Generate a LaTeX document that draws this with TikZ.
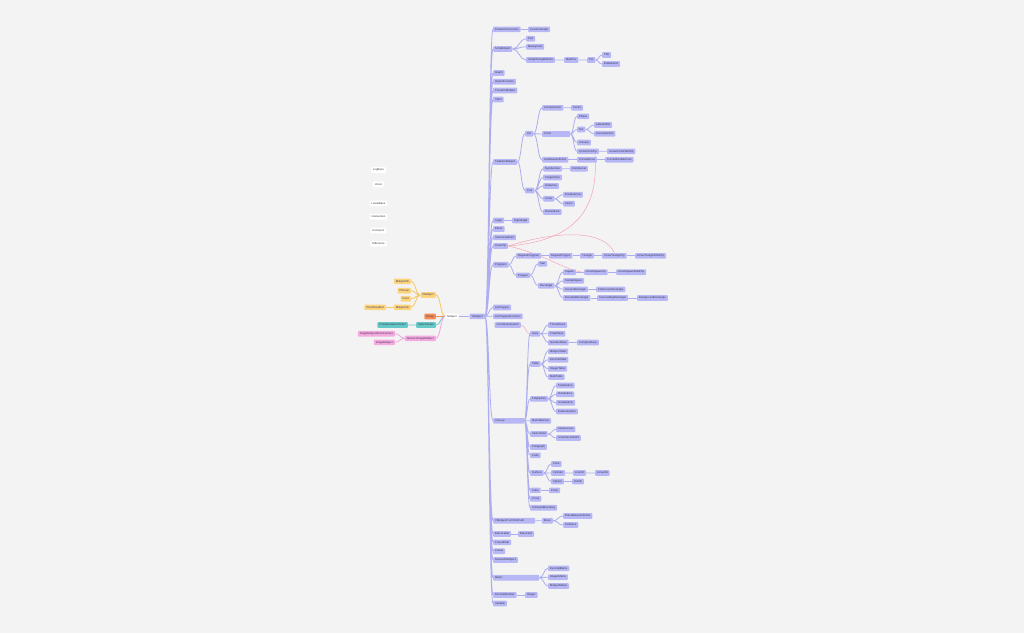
\documentclass[tikz,border=0pt]{standalone}
\usepackage{fontspec}
\setmainfont{Liberation Sans}
\usetikzlibrary{calc,backgrounds}

\definecolor{bgc}{HTML}{F3F3F3}
\definecolor{txt}{HTML}{35354A}
\definecolor{vfill}{HTML}{B7B7F5}
\definecolor{vline}{HTML}{ADADF0}
\definecolor{ofill}{HTML}{FDD47E}
\definecolor{oline}{HTML}{F8C662}
\definecolor{rfill}{HTML}{F38D55}
\definecolor{tfill}{HTML}{66C7C7}
\definecolor{tline}{HTML}{6CCACA}
\definecolor{kfill}{HTML}{F4AADF}
\definecolor{kline}{HTML}{F1A6DA}
\definecolor{xline}{HTML}{F3A5B8}

\begin{document}
\begin{tikzpicture}[
    x=1pt, y=-1pt,
    box/.style={rounded corners=0.8pt, font=\fontsize{2.7}{3}\selectfont, text=txt,
        inner xsep=2pt, inner ysep=0pt, text height=2pt, text depth=0.6pt,
        minimum height=5.6pt, anchor=west},
    vbox/.style={box, fill=vfill},
    obox/.style={box, fill=ofill, anchor=east},
    tbox/.style={box, fill=tfill, anchor=east},
    kbox/.style={box, fill=kfill, anchor=east},
    wbox/.style={box, fill=white, anchor=center},
    wide/.style={text width=#1, align=left},
    link/.style={to path={let \p1=(\tikztostart), \p2=(\tikztotarget), \n1={(\x1+\x2)/2}
        in .. controls (\n1,\y1) and (\n1,\y2) .. (\tikztotarget)}},
    vedge/.style={draw=vline, line width=0.8pt},
    oedge/.style={draw=oline, line width=0.8pt},
    tedge/.style={draw=tline, line width=0.8pt},
    kedge/.style={draw=kline, line width=0.8pt},
    xedge/.style={draw=xline, line width=0.5pt},
]
\useasboundingbox (0,0) rectangle (1024,633);

% free standing
\node[wbox] (logbase) at (378.5,170) {LogBase};
\node[wbox] (union) at (378.5,184.5) {Union};
\node[wbox] (linbase) at (378.5,203.3) {LinearBase};
\node[wbox] (inter) at (378.5,216.7) {Intersection};
\node[wbox] (excl) at (378.5,230.5) {Exclusion};
\node[wbox] (diff) at (378.5,243.7) {Difference};

% root
\node[wbox] (root) at (452,316.3) {Mobject};
\node[vbox, anchor=east] (vmob) at (485,316.3) {VMobject};

% left branches
\node[obox] (pmob) at (436,295) {PMobject};
\node[obox] (mob2d) at (411,281.3) {Mobject2D};
\node[obox] (pgroup) at (411,290.7) {PGroup};
\node[obox] (point) at (411,298.7) {Point};
\node[obox] (mob1d) at (411,307.3) {Mobject1D};
\node[obox] (pcdot) at (386,307.3) {PointCloudDot};
\node[box, fill=rfill, anchor=east] (group) at (436,316.5) {Group};
\node[tbox] (vtrack) at (436,325) {ValueTracker};
\node[tbox] (cvtrack) at (408,325) {ComplexValueTracker};
\node[kbox] (absimg) at (436,338.3) {AbstractImageMobject};
\node[kbox] (imgcam) at (395,333.7) {ImageMobjectFromCamera};
\node[kbox] (imgmob) at (395,342.3) {ImageMobject};

% VMobject branch
\node[vbox] (parfn) at (493,29.3) {ParametricFunction};
\node[vbox] (fngraph) at (528,29.3) {FunctionGraph};
\node[vbox] (svg) at (493,49) {SVGMobject};
\node[vbox] (text) at (526,38.7) {Text};
\node[vbox] (markup) at (526,46.7) {MarkupText};
\node[vbox] (sstex) at (526,60) {SingleStringMathTex};
\node[vbox] (mathtex) at (564,60) {MathTex};
\node[vbox] (tex) at (587,60) {Tex};
\node[vbox] (title) at (602,55) {Title};
\node[vbox] (bullets) at (602,64) {BulletedList};
\node[vbox] (graph) at (493,73) {Graph};
\node[vbox] (implicit) at (493,81.7) {ImplicitFunction};
\node[vbox] (threedv) at (493,90.5) {ThreeDVMobject};
\node[vbox] (vdict) at (493,99.5) {VDict};

\node[vbox] (tipable) at (493,162) {TipableVMobject};
\node[vbox] (arc) at (525,133.7) {Arc};
\node[vbox] (annsec) at (542,107.8) {AnnularSector};
\node[vbox] (sector) at (571,107.8) {Sector};
\node[vbox, wide=24pt] (circle) at (542,134) {Circle};
\node[vbox] (ellipse) at (577,116.3) {Ellipse};
\node[vbox] (dot) at (577,129.5) {Dot};
\node[vbox] (labdot) at (594,125) {LabeledDot};
\node[vbox] (annodot) at (594,133.7) {AnnotationDot};
\node[vbox] (annulus) at (577,142.5) {Annulus};
\node[vbox] (circtip) at (577,151.3) {ArrowCircleTip};
\node[vbox] (circfill) at (607,151.3) {ArrowCircleFilledTip};
\node[vbox] (arcbp) at (542,159.7) {ArcBetweenPoints};
\node[vbox] (curvarr) at (577,159.7) {CurvedArrow};
\node[vbox] (curvdbl) at (605,159.7) {CurvedDoubleArrow};
\node[vbox] (line) at (525,190.5) {Line};
\node[vbox] (numline) at (543,168.7) {NumberLine};
\node[vbox] (unitint) at (570,168.7) {UnitInterval};
\node[vbox] (tangent) at (543,177.5) {TangentLine};
\node[vbox] (underline) at (543,186) {Underline};
\node[vbox] (arrow) at (543,198.7) {Arrow};
\node[vbox] (dblarrow) at (563,194.7) {DoubleArrow};
\node[vbox] (vector) at (563,203.7) {Vector};
\node[vbox] (dashline) at (543,212) {DashedLine};

\node[vbox] (angle) at (493,220.5) {Angle};
\node[vbox] (rightang) at (512,220.5) {RightAngle};
\node[vbox] (elbow) at (493,229) {Elbow};
\node[vbox] (vpoint) at (493,237.3) {VectorizedPoint};
\node[vbox] (arrtip) at (493,246) {ArrowTip};

\node[vbox] (polygram) at (493,264.7) {Polygram};
\node[vbox] (regpgram) at (516,255.8) {RegularPolygram};
\node[vbox] (regpgon) at (549,255.8) {RegularPolygon};
\node[vbox] (triangle) at (580,255.8) {Triangle};
\node[vbox] (tritip) at (602,255.8) {ArrowTriangleTip};
\node[vbox] (trifill) at (635,255.8) {ArrowTriangleFilledTip};
\node[vbox] (polygon) at (516,275.3) {Polygon};
\node[vbox] (star) at (538,263.8) {Star};
\node[vbox] (rect) at (538,285.7) {Rectangle};
\node[vbox] (square) at (563,272.2) {Square};
\node[vbox] (sqtip) at (584,272.2) {ArrowSquareTip};
\node[vbox] (sqfill) at (616,272.2) {ArrowSquareFilledTip};
\node[vbox] (sample) at (563,280.8) {SampleSpace};
\node[vbox] (screen) at (563,289.3) {ScreenRectangle};
\node[vbox] (fullscreen) at (596,289.3) {FullScreenRectangle};
\node[vbox] (rounded) at (563,298) {RoundedRectangle};
\node[vbox] (surround) at (597,298) {SurroundingRectangle};
\node[vbox] (backrect) at (637,298) {BackgroundRectangle};

\node[vbox] (arcpoly) at (493,307.5) {ArcPolygon};
\node[vbox] (arcpolyarcs) at (493,316.3) {ArcPolygonFromArcs};
\node[vbox] (coordsys) at (494.5,325) {CoordinateSystem};

\node[vbox, wide=27pt] (vgroup) at (493,420.8) {VGroup};
\node[vbox] (axes) at (530,333.7) {Axes};
\node[vbox] (threedaxes) at (548,325) {ThreeDAxes};
\node[vbox] (polar) at (548,333.7) {PolarPlane};
\node[vbox] (numplane) at (548,342.5) {NumberPlane};
\node[vbox] (complex) at (577,342.5) {ComplexPlane};
\node[vbox] (table) at (530,364) {Table};
\node[vbox] (mobtable) at (548,351.3) {MobjectTable};
\node[vbox] (dectable) at (548,359.7) {DecimalTable};
\node[vbox] (inttable) at (548,368.7) {IntegerTable};
\node[vbox] (mathtable) at (548,377) {MathTable};
\node[vbox] (polyhed) at (530,398.8) {Polyhedron};
\node[vbox] (tetra) at (556,385.5) {Tetrahedron};
\node[vbox] (octa) at (556,394.2) {Octahedron};
\node[vbox] (icosa) at (556,402.8) {Icosahedron};
\node[vbox] (dodeca) at (556,411.5) {Dodecahedron};
\node[vbox] (banner) at (530,420.8) {ManimBanner};
\node[vbox] (vfield) at (530,434) {VectorField};
\node[vbox] (stream) at (556,429.2) {StreamLines};
\node[vbox] (arrfield) at (556,438) {ArrowVectorField};
\node[vbox] (para) at (530,447) {Paragraph};
\node[vbox] (code) at (530,455.3) {Code};
\node[vbox] (surface) at (530,473) {Surface};
\node[vbox] (cone) at (551,464) {Cone};
\node[vbox] (cylinder) at (551,473) {Cylinder};
\node[vbox] (line3d) at (573,473) {Line3D};
\node[vbox] (arrow3d) at (595,473) {Arrow3D};
\node[vbox] (sphere) at (551,481.5) {Sphere};
\node[vbox] (dot3d) at (572,481.5) {Dot3D};
\node[vbox] (cube) at (530,490.3) {Cube};
\node[vbox] (prism) at (549,490.3) {Prism};
\node[vbox] (cross) at (530,498.7) {Cross};
\node[vbox] (animbound) at (530,507.7) {AnimatedBoundary};

\node[vbox, wide=38pt] (svgpath) at (493,520.7) {VMobjectFromSVGPath};
\node[vbox] (brace) at (541.7,520.7) {Brace};
\node[vbox] (bracebp) at (563,516) {BraceBetweenPoints};
\node[vbox] (arcbrace) at (563,525) {ArcBrace};
\node[vbox] (bracelab) at (493,534) {BraceLabel};
\node[vbox] (bracetext) at (518,534) {BraceText};
\node[vbox] (traced) at (493,542.3) {TracedPath};
\node[vbox] (cutout) at (493,551.2) {Cutout};
\node[vbox] (dashedv) at (493,560) {DashedVMobject};
\node[vbox, wide=42pt] (matrix) at (493,577.7) {Matrix};
\node[vbox] (decmat) at (548,568.3) {DecimalMatrix};
\node[vbox] (intmat) at (548,577.2) {IntegerMatrix};
\node[vbox] (mobmat) at (548,586) {MobjectMatrix};
\node[vbox] (decnum) at (493,595) {DecimalNumber};
\node[vbox] (integer) at (525,595) {Integer};
\node[vbox] (variable) at (493,603.5) {Variable};

\begin{pgfonlayer}{background}
\fill[bgc] (0,0) rectangle (1024,633);

% left side
\draw[vedge] (root.east) to[link] (vmob.west);
\draw[oedge] (root.west) to[link] (pmob.east);
\draw[oedge] (pmob.west) to[link] (mob2d.east) (pmob.west) to[link] (pgroup.east)
    (pmob.west) to[link] (point.east) (pmob.west) to[link] (mob1d.east);
\draw[oedge] (mob1d.west) to[link] (pcdot.east);
\draw[draw=rfill, line width=0.8pt] (root.west) to[link] (group.east);
\draw[tedge] (root.west) to[link] (vtrack.east) (vtrack.west) to[link] (cvtrack.east);
\draw[kedge] (root.west) to[link] (absimg.east);
\draw[kedge] (absimg.west) to[link] (imgcam.east) (absimg.west) to[link] (imgmob.east);

% VMobject children
\draw[vedge] (vmob.east) to[link] (parfn.west) (vmob.east) to[link] (svg.west)
    (vmob.east) to[link] (graph.west) (vmob.east) to[link] (implicit.west)
    (vmob.east) to[link] (threedv.west) (vmob.east) to[link] (vdict.west)
    (vmob.east) to[link] (tipable.west) (vmob.east) to[link] (angle.west)
    (vmob.east) to[link] (elbow.west) (vmob.east) to[link] (vpoint.west)
    (vmob.east) to[link] (arrtip.west) (vmob.east) to[link] (polygram.west)
    (vmob.east) to[link] (arcpoly.west) (vmob.east) to[link] (arcpolyarcs.west)
    (vmob.east) to[link] (vgroup.west) (vmob.east) to[link] (svgpath.west)
    (vmob.east) to[link] (bracelab.west) (vmob.east) to[link] (traced.west)
    (vmob.east) to[link] (cutout.west) (vmob.east) to[link] (dashedv.west)
    (vmob.east) to[link] (matrix.west) (vmob.east) to[link] (decnum.west)
    (vmob.east) to[link] (variable.west);

\draw[vedge] (parfn.east) to[link] (fngraph.west);
\draw[vedge] (svg.east) to[link] (text.west) (svg.east) to[link] (markup.west)
    (svg.east) to[link] (sstex.west);
\draw[vedge] (sstex.east) to[link] (mathtex.west) (mathtex.east) to[link] (tex.west)
    (tex.east) to[link] (title.west) (tex.east) to[link] (bullets.west);

\draw[vedge] (tipable.east) to[link] (arc.west) (tipable.east) to[link] (line.west);
\draw[vedge] (arc.east) to[link] (annsec.west) (arc.east) to[link] (circle.west)
    (arc.east) to[link] (arcbp.west) (annsec.east) to[link] (sector.west);
\draw[vedge] (circle.east) to[link] (ellipse.west) (circle.east) to[link] (dot.west)
    (circle.east) to[link] (annulus.west) (circle.east) to[link] (circtip.west);
\draw[vedge] (dot.east) to[link] (labdot.west) (dot.east) to[link] (annodot.west)
    (circtip.east) to[link] (circfill.west);
\draw[vedge] (arcbp.east) to[link] (curvarr.west) (curvarr.east) to[link] (curvdbl.west);
\draw[vedge] (line.east) to[link] (numline.west) (line.east) to[link] (tangent.west)
    (line.east) to[link] (underline.west) (line.east) to[link] (arrow.west)
    (line.east) to[link] (dashline.west);
\draw[vedge] (numline.east) to[link] (unitint.west) (arrow.east) to[link] (dblarrow.west)
    (arrow.east) to[link] (vector.west);
\draw[vedge] (angle.east) to[link] (rightang.west);

\draw[vedge] (polygram.east) to[link] (regpgram.west) (polygram.east) to[link] (polygon.west);
\draw[vedge] (regpgram.east) to[link] (regpgon.west) (regpgon.east) to[link] (triangle.west)
    (triangle.east) to[link] (tritip.west) (tritip.east) to[link] (trifill.west);
\draw[vedge] (polygon.east) to[link] (star.west) (polygon.east) to[link] (rect.west);
\draw[vedge] (rect.east) to[link] (square.west) (rect.east) to[link] (sample.west)
    (rect.east) to[link] (screen.west) (rect.east) to[link] (rounded.west);
\draw[vedge] (square.east) to[link] (sqtip.west) (sqtip.east) to[link] (sqfill.west)
    (screen.east) to[link] (fullscreen.west) (rounded.east) to[link] (surround.west)
    (surround.east) to[link] (backrect.west);

\draw[vedge] (vgroup.east) to[link] (axes.west) (vgroup.east) to[link] (table.west)
    (vgroup.east) to[link] (polyhed.west) (vgroup.east) to[link] (banner.west)
    (vgroup.east) to[link] (vfield.west) (vgroup.east) to[link] (para.west)
    (vgroup.east) to[link] (code.west) (vgroup.east) to[link] (surface.west)
    (vgroup.east) to[link] (cube.west) (vgroup.east) to[link] (cross.west)
    (vgroup.east) to[link] (animbound.west);
\draw[vedge] (axes.east) to[link] (threedaxes.west) (axes.east) to[link] (polar.west)
    (axes.east) to[link] (numplane.west) (numplane.east) to[link] (complex.west);
\draw[vedge] (table.east) to[link] (mobtable.west) (table.east) to[link] (dectable.west)
    (table.east) to[link] (inttable.west) (table.east) to[link] (mathtable.west);
\draw[vedge] (polyhed.east) to[link] (tetra.west) (polyhed.east) to[link] (octa.west)
    (polyhed.east) to[link] (icosa.west) (polyhed.east) to[link] (dodeca.west);
\draw[vedge] (vfield.east) to[link] (stream.west) (vfield.east) to[link] (arrfield.west);
\draw[vedge] (surface.east) to[link] (cone.west) (surface.east) to[link] (cylinder.west)
    (surface.east) to[link] (sphere.west) (cylinder.east) to[link] (line3d.west)
    (line3d.east) to[link] (arrow3d.west) (sphere.east) to[link] (dot3d.west);
\draw[vedge] (cube.east) to[link] (prism.west);

\draw[vedge] (svgpath.east) to[link] (brace.west) (brace.east) to[link] (bracebp.west)
    (brace.east) to[link] (arcbrace.west);
\draw[vedge] (bracelab.east) to[link] (bracetext.west);
\draw[vedge] (matrix.east) to[link] (decmat.west) (matrix.east) to[link] (intmat.west)
    (matrix.east) to[link] (mobmat.west);
\draw[vedge] (decnum.east) to[link] (integer.west);

% second parents
\draw[xedge] (arrtip.east) .. controls (585,240) and (598,200) .. ([xshift=-4pt]circtip.south east);
\draw[xedge] (arrtip.east) .. controls (560,230) and (604,230) .. (tritip.north);
\draw[xedge] (arrtip.east) .. controls (545,254) and (568,272) .. (sqtip.west);
\draw[xedge] (coordsys.east) to[link] (axes.west);
\end{pgfonlayer}
\end{tikzpicture}
\end{document}
